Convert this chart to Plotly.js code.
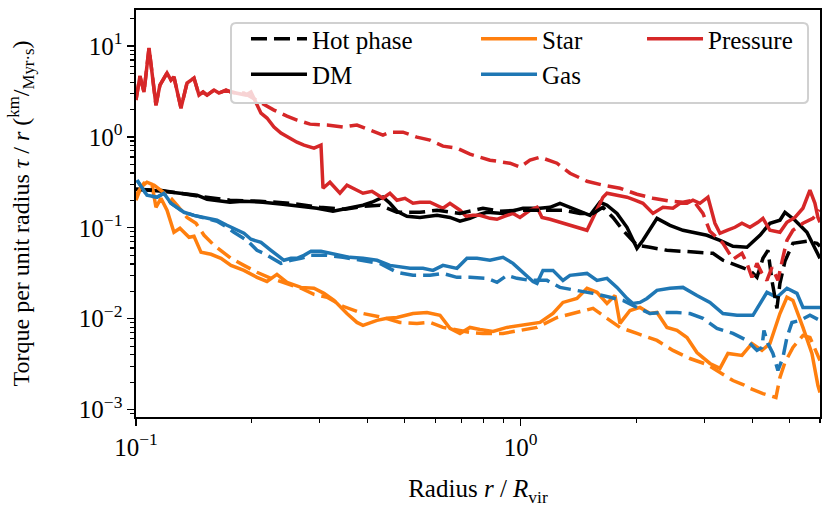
<!DOCTYPE html>
<html><head><meta charset="utf-8">
<script src="https://cdn.plot.ly/plotly-3.0.1.min.js"></script>
<style>html,body{margin:0;padding:0;background:#fff}#chart{width:830px;height:514px}</style>
</head><body><div id="chart"></div>
<script>
// ---- Data (radius r/Rvir, torque per unit radius) ----
const presAllR = [0.1000,0.1024,0.1049,0.1081,0.1127,0.1154,0.1204,0.1233,0.1255,0.1309,0.1357,0.1415,0.1458,0.1494,0.1530,0.1595,0.1643,0.1714,0.1766,0.1830,0.1931,0.1990,0.2051,0.2113,0.2190,0.2284,0.2381,0.2499,0.2621,0.2733,0.2902,0.3026,0.3063,0.3193,0.3390,0.3535,0.3664,0.3891,0.4106,0.4385,0.4573,0.4769,0.5002,0.5248,0.5472,0.5811,0.6281,0.6549,0.6953,0.7207,0.7516,0.7837,0.8322,0.8678,0.9103,0.9550,0.9959,1.0573,1.1026,1.1361,1.1919,1.2651,1.3676,1.4873,1.6367,1.6764,1.7798,1.8895,1.9822,2.0794,2.2077,2.3437,2.4882,2.5946,2.7056,2.8045,2.9245,3.0679,3.1993,3.2965,3.4376,3.6063,3.7606,3.9449,4.1383,4.2637,4.4463,4.7206,4.9227,5.1642,5.4175,5.6494,5.8210,5.9265,6.0];
const presAllV = [2.54,4.66,3.11,9.48,2.23,3.71,5.03,4.21,4.55,2.07,3.90,4.43,2.88,3.11,2.88,3.27,3.03,3.27,3.11,3.03,2.88,3.11,2.41,1.82,1.61,1.28,1.099,0.968,0.874,0.810,0.751,0.810,0.272,0.317,0.240,0.294,0.272,0.240,0.252,0.211,0.240,0.201,0.211,0.186,0.191,0.191,0.164,0.186,0.156,0.134,0.137,0.137,0.127,0.124,0.134,0.144,0.130,0.156,0.168,0.130,0.124,0.115,0.1065,0.0938,0.217,0.240,0.228,0.217,0.201,0.186,0.144,0.168,0.164,0.186,0.186,0.201,0.186,0.217,0.112,0.0870,0.0938,0.1013,0.112,0.1013,0.115,0.127,0.0938,0.0892,0.115,0.130,0.164,0.259,0.186,0.130,0.115];

const presHotR = [0.1000,0.1024,0.1049,0.1081,0.1127,0.1154,0.1204,0.1233,0.1255,0.1309,0.1357,0.1415,0.1458,0.1494,0.1530,0.1595,0.1643,0.1714,0.1766,0.1830,0.1908,0.1990,0.2113,0.2284,0.2469,0.2621,0.2834,0.3138,0.3452,0.3753,0.4057,0.4385,0.4573,0.4943,0.5375,0.5811,0.6281,0.6829,0.7382,0.8322,0.9380,0.9959,1.0573,1.1226,1.2429,1.3432,1.4873,1.6367,1.8120,2.0060,2.2077,2.4439,2.6417,2.8045,2.9775,3.1049,3.3563,3.5633,3.7606,3.8747,3.9924,4.1136,4.2383,4.3671,4.4998,4.6643,4.8061,4.9227,5.1028,5.4175,5.7518,6.0];
const presHotV = [2.54,4.66,3.11,9.48,2.23,3.71,5.03,4.21,4.55,2.07,3.90,4.43,2.88,3.11,2.88,3.27,3.03,3.27,3.11,3.03,3.03,2.74,2.41,1.97,1.69,1.53,1.38,1.35,1.28,1.35,1.185,1.044,1.127,1.127,0.992,0.920,0.790,0.751,0.645,0.554,0.513,0.464,0.554,0.598,0.513,0.398,0.325,0.294,0.272,0.234,0.211,0.196,0.191,0.201,0.144,0.0915,0.0675,0.0450,0.0524,0.0406,0.0285,0.0406,0.0315,0.0264,0.0367,0.0264,0.0473,0.0728,0.0938,0.112,0.127,0.156];

const dmAllR = [0.1000,0.1087,0.1175,0.1301,0.1441,0.1530,0.1683,0.1755,0.1897,0.2138,0.2410,0.2717,0.2955,0.3251,0.3599,0.3891,0.4106,0.4385,0.4573,0.4769,0.5062,0.5472,0.6060,0.6549,0.6953,0.7382,0.7837,0.8173,0.8995,1.0139,1.1226,1.1919,1.2651,1.3432,1.4520,1.5142,1.6076,1.6764,1.7798,1.8895,2.0060,2.0794,2.2611,2.4439,2.6417,2.8045,3.0496,3.2965,3.5633,3.8747,4.1879,4.4463,4.7206,4.8641,5.1642,5.5488,5.8210,6.0];
const dmAllV = [0.265,0.259,0.252,0.240,0.228,0.206,0.196,0.191,0.196,0.191,0.181,0.172,0.164,0.152,0.164,0.177,0.191,0.217,0.186,0.152,0.134,0.130,0.137,0.130,0.118,0.127,0.141,0.148,0.144,0.164,0.164,0.168,0.186,0.168,0.144,0.137,0.191,0.177,0.144,0.1013,0.0594,0.0728,0.127,0.1065,0.0938,0.0892,0.0827,0.0728,0.0625,0.0610,0.0827,0.112,0.121,0.148,0.121,0.0892,0.0610,0.0461];

const dmHotR = [0.1000,0.1154,0.1467,0.1755,0.2101,0.2514,0.3008,0.3493,0.3891,0.4307,0.4769,0.5472,0.6060,0.6953,0.7980,0.8835,0.9959,1.1429,1.2881,1.4262,1.5416,1.6367,1.7377,1.8448,2.0060,2.1684,2.4004,2.6417,2.9245,3.1612,3.3563,3.6498,3.9449,4.1136,4.2637,4.3933,4.4998,4.6365,4.7206,4.8641,5.1028,5.5488,5.8911,6.0];
const dmHotV = [0.265,0.259,0.222,0.201,0.196,0.186,0.168,0.160,0.172,0.177,0.148,0.148,0.156,0.144,0.164,0.152,0.156,0.156,0.156,0.144,0.144,0.168,0.130,0.0938,0.0642,0.0610,0.0565,0.0551,0.0537,0.0524,0.0439,0.0386,0.0340,0.0285,0.0461,0.0565,0.0264,0.0130,0.0245,0.0428,0.0675,0.0710,0.0675,0.0625];

const gasAllR = [0.1006,0.1068,0.1134,0.1182,0.1233,0.1278,0.1333,0.1415,0.1530,0.1624,0.1724,0.1830,0.1908,0.1990,0.2113,0.2243,0.2325,0.2424,0.2529,0.2621,0.2733,0.2851,0.3026,0.3213,0.3330,0.3599,0.3891,0.4231,0.4573,0.5154,0.5572,0.5916,0.6281,0.6829,0.7251,0.7698,0.8322,0.8995,0.9550,1.0139,1.0765,1.1026,1.1429,1.2134,1.2881,1.3432,1.4873,1.5790,1.6764,1.7798,1.8895,1.9586,2.0424,2.1298,2.2611,2.4439,2.6417,2.8724,3.1049,3.3563,3.6498,4.0164,4.3671,4.6365,4.9227,5.2264,5.4175,5.6494,6.0];
const gasAllV = [0.334,0.228,0.217,0.240,0.186,0.168,0.148,0.137,0.127,0.121,0.1065,0.0938,0.0870,0.0747,0.0692,0.0565,0.0498,0.0439,0.0461,0.0461,0.0498,0.0551,0.0551,0.0524,0.0498,0.0473,0.0461,0.0439,0.0386,0.0358,0.0358,0.0340,0.0386,0.0358,0.0461,0.0461,0.0439,0.0473,0.0406,0.0324,0.0257,0.0245,0.0340,0.0340,0.0264,0.0300,0.0315,0.0264,0.0278,0.0221,0.0167,0.0147,0.0151,0.0167,0.0205,0.0216,0.0221,0.0180,0.0151,0.0114,0.0109,0.0109,0.0195,0.0172,0.0216,0.0190,0.0133,0.0133,0.0133];

const gasHotR = [0.1006,0.1068,0.1134,0.1182,0.1233,0.1278,0.1333,0.1415,0.1530,0.1624,0.1724,0.1797,0.1943,0.2063,0.2151,0.2243,0.2381,0.2529,0.2685,0.2851,0.3138,0.3452,0.3891,0.4307,0.4769,0.5248,0.5811,0.6281,0.6829,0.7382,0.8173,0.8678,0.9213,0.9781,1.0573,1.1706,1.2651,1.4007,1.5416,1.7067,1.8448,2.0060,2.1684,2.3437,2.5485,2.7546,2.9775,3.2378,3.5633,3.8747,4.1136,4.2383,4.2894,4.3933,4.5268,4.6643,4.8061,4.9227,5.0723,5.3211,5.6494,6.0];
const gasHotV = [0.334,0.228,0.217,0.240,0.186,0.168,0.148,0.137,0.127,0.118,0.1013,0.0892,0.0728,0.0565,0.0524,0.0473,0.0406,0.0439,0.0461,0.0498,0.0498,0.0473,0.0439,0.0406,0.0324,0.0300,0.0300,0.0315,0.0285,0.0285,0.0278,0.0251,0.0300,0.0278,0.0264,0.0264,0.0221,0.0205,0.0190,0.0172,0.0159,0.0133,0.0114,0.0117,0.0117,0.0114,0.0101,0.00782,0.00689,0.00577,0.00448,0.00483,0.00743,0.00534,0.00415,0.00270,0.00375,0.00622,0.00910,0.00958,0.0109,0.00958];

const starAllR = [0.1000,0.1030,0.1068,0.1100,0.1127,0.1161,0.1204,0.1255,0.1301,0.1374,0.1415,0.1476,0.1567,0.1663,0.1766,0.1908,0.2063,0.2190,0.2325,0.2469,0.2685,0.2902,0.3081,0.3271,0.3535,0.3753,0.3891,0.4231,0.4491,0.4769,0.5248,0.5707,0.6170,0.6549,0.6953,0.7382,0.7837,0.8472,0.9213,1.0139,1.1226,1.2134,1.2881,1.4007,1.4873,1.5790,1.6764,1.7586,1.8120,1.9237,2.0424,2.1684,2.2611,2.4004,2.5485,2.7056,2.8724,3.1049,3.2965,3.4583,3.7606,3.9924,4.2383,4.4463,4.7206,4.9227,5.1028,5.4175,5.7174,5.9265,6.0];
const starAllV = [0.201,0.279,0.317,0.301,0.168,0.211,0.156,0.0892,0.0988,0.0786,0.0806,0.0537,0.0511,0.0461,0.0386,0.0340,0.0285,0.0257,0.0307,0.0251,0.0221,0.0216,0.0190,0.0159,0.0114,0.00910,0.00844,0.00958,0.0101,0.0103,0.0114,0.0117,0.0109,0.00782,0.00689,0.00802,0.00762,0.00725,0.00802,0.00844,0.00910,0.0114,0.0151,0.0167,0.0216,0.0195,0.0147,0.0180,0.00888,0.0123,0.0133,0.0114,0.0117,0.00802,0.00743,0.00622,0.00425,0.00322,0.00284,0.00415,0.00394,0.00534,0.00448,0.00534,0.0114,0.0172,0.0159,0.00802,0.00415,0.00184,0.00154];

const starHotR = [0.1000,0.1049,0.1114,0.1182,0.1233,0.1278,0.1357,0.1432,0.1503,0.1595,0.1663,0.1766,0.1908,0.2063,0.2243,0.2424,0.2685,0.2902,0.3138,0.3452,0.3891,0.4385,0.4855,0.5375,0.5811,0.6281,0.6829,0.7382,0.7980,0.8995,0.9959,1.1026,1.2429,1.4007,1.5416,1.6764,1.8120,2.0060,2.2611,2.4882,2.7546,3.0496,3.2965,3.5633,3.7832,3.9449,4.2637,4.6088,4.7206,4.8641,5.1028,5.4175,5.6494,6.0];
const starHotV = [0.228,0.309,0.294,0.246,0.211,0.177,0.130,0.112,0.0827,0.0642,0.0565,0.0461,0.0386,0.0324,0.0278,0.0251,0.0216,0.0185,0.0172,0.0137,0.0114,0.0103,0.00910,0.00888,0.00910,0.00802,0.00743,0.00706,0.00689,0.00689,0.00743,0.00802,0.0103,0.0117,0.0130,0.0101,0.00802,0.00689,0.00577,0.00448,0.00365,0.00314,0.00256,0.00209,0.00189,0.00171,0.00150,0.00136,0.00226,0.00330,0.00483,0.00655,0.00622,0.00347];

const legendNames = ['Hot phase', 'DM', 'Star', 'Gas', 'Pressure'];
const xTickVals = [0.1, 1];
const xTickText = ['10<sup>−1</sup>', '10<sup>0</sup>'];
const yTickVals = [0.001, 0.01, 0.1, 1, 10];
const yTickText = ['10<sup>−3</sup>', '10<sup>−2</sup>', '10<sup>−1</sup>', '10<sup>0</sup>', '10<sup>1</sup>'];

// ---- Styling ----
const C_BLACK = '#000000', C_ORANGE = '#ff7f0e', C_BLUE = '#1f77b4', C_RED = '#d62728';
const LW = 3.5;
const DASH = '16px,7px';
const FONT = 'Liberation Serif, Times New Roman, serif';

function tr(x, y, color, dashed, name, legendId, rank) {
  return {
    type: 'scatter', mode: 'lines', x: x, y: y, name: name || '',
    showlegend: !!legendId, legend: legendId || 'legend', legendrank: rank || 1000,
    line: {color: color, width: LW, dash: dashed ? DASH : 'solid'},
    hoverinfo: 'skip'
  };
}

const data = [
  tr(dmAllR, dmAllV, C_BLACK, false, legendNames[1], 'legend', 2),
  tr(starAllR, starAllV, C_ORANGE, false, legendNames[2], 'legend2', 1),
  tr(gasAllR, gasAllV, C_BLUE, false, legendNames[3], 'legend2', 2),
  tr(presAllR, presAllV, C_RED, false, legendNames[4], 'legend3', 1),
  tr(dmHotR, dmHotV, C_BLACK, true),
  tr(starHotR, starHotV, C_ORANGE, true),
  tr(gasHotR, gasHotV, C_BLUE, true),
  tr(presHotR, presHotV, C_RED, true),
  tr([null], [null], C_BLACK, true, legendNames[0], 'legend', 1)
];

const minorY = [];
for (let e = -4; e <= 1; e++) for (let k = 2; k <= 9; k++) minorY.push(k * Math.pow(10, e));
const minorX = [];
for (let e = -2; e <= 0; e++) for (let k = 2; k <= 9; k++) minorX.push(k * Math.pow(10, e));

const axisCommon = {
  type: 'log', showgrid: false, zeroline: false,
  showline: true, linecolor: '#000', linewidth: 1.6, mirror: true,
  ticks: 'outside', ticklen: 7, tickwidth: 1.4, tickcolor: '#000',
  tickmode: 'array',
  tickfont: {family: FONT, size: 25, color: '#000'}
};

// legend frame (rounded rectangle in paper coordinates)
const fx0 = 0.1389, fx1 = 0.9825, fyT = 0.9681, fyB = 0.7715, rx = 0.0073, ry = 0.0123;
const framePath = `M${fx0+rx},${fyT} L${fx1-rx},${fyT} Q${fx1},${fyT} ${fx1},${fyT-ry} L${fx1},${fyB+ry} Q${fx1},${fyB} ${fx1-rx},${fyB} L${fx0+rx},${fyB} Q${fx0},${fyB} ${fx0},${fyB+ry} L${fx0},${fyT-ry} Q${fx0},${fyT} ${fx0+rx},${fyT} Z`;

const legBase = {
  orientation: 'v', y: 0.985, xanchor: 'left', yanchor: 'top',
  bgcolor: 'rgba(0,0,0,0)', borderwidth: 0, itemwidth: 56,
  font: {family: FONT, size: 25, color: '#000'}, traceorder: 'normal'
};

const layout = {
  width: 830, height: 514,
  margin: {l: 136, r: 10, t: 10, b: 97},
  paper_bgcolor: '#fff', plot_bgcolor: '#fff',
  font: {family: FONT, size: 25, color: '#000'},
  xaxis: Object.assign({}, axisCommon, {
    range: [-1, Math.log10(6)],
    tickvals: xTickVals, ticktext: xTickText,
    minor: {tickmode: 'array', tickvals: minorX, ticks: 'outside', ticklen: 4, tickwidth: 1.1, tickcolor: '#000', showgrid: false},
    title: {text: 'Radius <i>r</i> / <i>R</i><sub>vir</sub>', font: {family: FONT, size: 25}, standoff: 20}
  }),
  yaxis: Object.assign({}, axisCommon, {
    range: [-3.081, 1.395],
    tickvals: yTickVals, ticktext: yTickText,
    minor: {tickmode: 'array', tickvals: minorY, ticks: 'outside', ticklen: 4, tickwidth: 1.1, tickcolor: '#000', showgrid: false},
    title: {text: 'Torque per unit radius <i>τ</i> / <i>r</i> (<sup>km</sup>/<sub>Myr·s</sub>)', font: {family: FONT, size: 24}, standoff: 42}
  }),
  shapes: [{type: 'path', xref: 'paper', yref: 'paper', path: framePath, layer: 'above',
            fillcolor: 'rgba(255,255,255,0.8)', line: {color: '#d0d0d0', width: 2}}],
  showlegend: true,
  legend: Object.assign({}, legBase, {x: 0.1608}),
  legend2: Object.assign({}, legBase, {x: 0.4971}),
  legend3: Object.assign({}, legBase, {x: 0.7398})
};

Plotly.newPlot('chart', data, layout, {staticPlot: true, displayModeBar: false});
</script>
</body></html>
